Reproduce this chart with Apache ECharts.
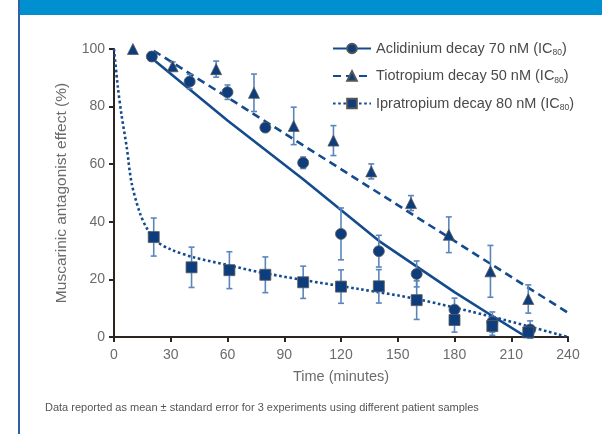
<!DOCTYPE html>
<html>
<head>
<meta charset="utf-8">
<script src="https://cdn.jsdelivr.net/npm/echarts@6/dist/echarts.min.js"></script>
<style>
  html, body { margin: 0; padding: 0; background: #ffffff; }
  #chart { width: 602px; height: 434px; }
</style>
</head>
<body>
<div id="chart"></div>
<script>
// Series names (legend), drawn with an IC80 subscript
const seriesNames = [
  'Aclidinium decay 70 nM (IC80)',
  'Tiotropium decay 50 nM (IC80)',
  'Ipratropium decay 80 nM (IC80)'
];

// Measured means: [time (min), effect (%), standard error]
const aclidiniumPoints = [
  [20, 97.4, 1.5], [40, 88.7, 2.5], [60, 85, 2.5], [80, 72.7, 1], [100, 60.5, 2],
  [120, 35.8, 9], [140, 29.8, 5.5], [160, 21.9, 4.5], [180, 9.5, 4], [200, 5.2, 3.5], [220, 2.6, 3]
];
const tiotropiumPoints = [
  [10, 100, 0], [31, 94, 1.5], [54, 93, 2.8], [74, 84.8, 6.5], [95, 73.3, 6.5],
  [116, 68.2, 5.2], [136, 57.5, 2.6], [157, 46.5, 2.6], [177, 35.5, 6.2], [199, 22.8, 9], [219, 13.2, 4.9]
];
const ipratropiumPoints = [
  [21, 34.7, 6.6], [41, 24.2, 7], [61, 23.2, 6.4], [80, 21.6, 6.2], [100, 19, 5.6],
  [120, 17.5, 5.8], [140, 17.6, 5.8], [160, 12.8, 6.7], [180, 5.9, 4.2], [200, 3.8, 3.2], [219, 1.6, 1.6]
];

// Fitted decay curves: [time (min), effect (%)]
const aclidiniumFit = [[20, 96.8], [60, 75.2], [100, 54.8], [140, 33.4], [180, 15.6], [200, 7.3], [218, 0]];
const tiotropiumFit = [[21, 99.4], [240, 8.4]];
const ipratropiumFit = [
  [0, 100], [2, 87], [4, 77], [6.7, 66], [9.3, 53.5], [13.7, 43], [18, 37], [22.5, 33.2],
  [30, 30.4], [42, 27.7], [60, 25], [77, 22.5], [100, 19.8], [130, 16.6], [160, 13.2],
  [200, 7], [240, 0]
];

// Axis ticks
const xTicks = { min: 0, max: 240, interval: 30 };
const yTicks = { min: 0, max: 100, interval: 20 };

const navy = '#0d3d7c';
const lineBlue = '#134b8e';
const errBlue = '#5a86bd';
const axisDark = '#2b2522';
const labelGrey = '#6b6b6d';
const fontFamily = '"Liberation Sans", Arial, sans-serif';

function errorBars(name, points) {
  return {
    type: 'custom',
    name: name,
    z: 3,
    silent: true,
    data: points.filter(p => p[2] > 0).map(p => [p[0], p[1] - p[2], p[1] + p[2]]),
    renderItem: function (params, api) {
      const lo = api.coord([api.value(0), api.value(1)]);
      const hi = api.coord([api.value(0), api.value(2)]);
      const cap = 3;
      const style = { stroke: errBlue, lineWidth: 1.6 };
      return {
        type: 'group',
        children: [
          { type: 'line', shape: { x1: lo[0], y1: lo[1], x2: hi[0], y2: hi[1] }, style: style },
          { type: 'line', shape: { x1: lo[0] - cap, y1: lo[1], x2: lo[0] + cap, y2: lo[1] }, style: style },
          { type: 'line', shape: { x1: hi[0] - cap, y1: hi[1], x2: hi[0] + cap, y2: hi[1] }, style: style }
        ]
      };
    }
  };
}

function fitLine(name, data, symbol, lineType, smooth) {
  return {
    type: 'line',
    name: name,
    data: data,
    symbol: symbol,
    showSymbol: false,
    smooth: smooth,
    z: 2,
    silent: true,
    itemStyle: { color: navy, borderColor: '#555', borderWidth: 0.8 },
    lineStyle: { color: lineBlue, width: 2.6, type: lineType },
    emphasis: { disabled: true }
  };
}

function markers(name, points, symbol, size) {
  return {
    type: 'scatter',
    name: name,
    data: points.map(p => [p[0], p[1]]),
    symbol: symbol,
    symbolSize: size,
    z: 4,
    itemStyle: { color: navy, borderColor: '#5b5b5b', borderWidth: 0.8, opacity: 1 }
  };
}

const chart = echarts.init(document.getElementById('chart'), null, { renderer: 'canvas' });

chart.setOption({
  animation: false,
  backgroundColor: '#ffffff',
  textStyle: { fontFamily: fontFamily },
  graphic: [
    { type: 'rect', left: 20, top: 0, shape: { width: 582, height: 15 }, style: { fill: '#0090cf' }, silent: true },
    { type: 'rect', left: 18, top: 0, shape: { width: 2, height: 434 }, style: { fill: '#2f62a4' }, silent: true },
    {
      type: 'text', left: 45, top: 402, silent: true,
      style: {
        text: 'Data reported as mean ± standard error for 3 experiments using different patient samples',
        fill: '#555555', fontSize: 11, fontFamily: fontFamily
      }
    }
  ],
  grid: { left: 114, right: 34, top: 49, bottom: 97, containLabel: false },
  legend: {
    data: seriesNames,
    orient: 'vertical',
    left: 327,
    top: 36,
    itemWidth: 38,
    itemHeight: 12,
    itemGap: 11,
    selectedMode: false,
    formatter: function (name) {
      const m = name.match(/^(.*\(IC)(80)(\))$/);
      return '{a|' + m[1] + '}{s|' + m[2] + '}{a|' + m[3] + '}';
    },
    textStyle: {
      color: '#4a4a4a',
      fontSize: 14.5,
      rich: {
        a: { fontSize: 14.5, color: '#4a4a4a', lineHeight: 18, verticalAlign: 'middle' },
        s: { fontSize: 8.5, color: '#4a4a4a', lineHeight: 9, verticalAlign: 'bottom' }
      }
    }
  },
  xAxis: {
    type: 'value',
    min: xTicks.min, max: xTicks.max, interval: xTicks.interval,
    name: 'Time (minutes)',
    nameLocation: 'middle',
    nameGap: 32,
    nameTextStyle: { color: labelGrey, fontSize: 14.5 },
    splitLine: { show: false },
    axisLine: { onZero: false, lineStyle: { color: axisDark, width: 2 } },
    axisTick: { show: true, length: 5, lineStyle: { color: axisDark, width: 2 } },
    axisLabel: { color: labelGrey, fontSize: 14, margin: 11 }
  },
  yAxis: {
    type: 'value',
    min: yTicks.min, max: yTicks.max, interval: yTicks.interval,
    name: 'Muscarinic antagonist effect (%)',
    nameLocation: 'middle',
    nameGap: 44,
    nameTextStyle: { color: labelGrey, fontSize: 15.5 },
    splitLine: { show: false },
    axisLine: { show: true, onZero: false, lineStyle: { color: axisDark, width: 2 } },
    axisTick: { show: true, length: 5, lineStyle: { color: axisDark, width: 2 } },
    axisLabel: { color: labelGrey, fontSize: 14, margin: 9 }
  },
  series: [
    fitLine(seriesNames[0], aclidiniumFit, 'circle', 'solid', false),
    fitLine(seriesNames[1], tiotropiumFit, 'triangle', [8, 5], false),
    fitLine(seriesNames[2], ipratropiumFit, 'rect', [2.6, 2.6], 0.3),
    errorBars(seriesNames[0], aclidiniumPoints),
    errorBars(seriesNames[1], tiotropiumPoints),
    errorBars(seriesNames[2], ipratropiumPoints),
    markers(seriesNames[0], aclidiniumPoints, 'circle', 11),
    markers(seriesNames[1], tiotropiumPoints, 'triangle', 11),
    markers(seriesNames[2], ipratropiumPoints, 'rect', 11)
  ]
});
</script>
</body>
</html>
